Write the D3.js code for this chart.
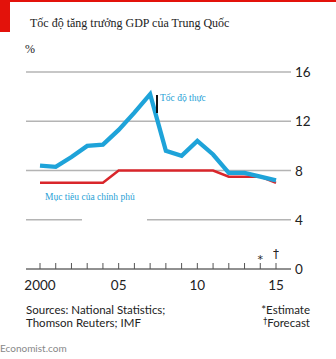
<!DOCTYPE html>
<html>
<head>
<meta charset="utf-8">
<script src="https://cdn.jsdelivr.net/npm/d3@7"></script>
<style>
  body { margin: 0; background: #fff; }
  svg { display: block; }
  .sym { opacity: 0.99; }
</style>
</head>
<body>
<div id="chart"></div>
<script>
var years = [2000, 2001, 2002, 2003, 2004, 2005, 2006, 2007, 2008, 2009, 2010, 2011, 2012, 2013, 2014, 2015];
var actual = [8.4, 8.3, 9.1, 10.0, 10.1, 11.3, 12.7, 14.2, 9.6, 9.2, 10.4, 9.3, 7.8, 7.8, 7.5, 7.2];
var target = [7.0, 7.0, 7.0, 7.0, 7.0, 8.0, 8.0, 8.0, 8.0, 8.0, 8.0, 8.0, 7.5, 7.5, 7.5, 7.0];
var yTicks = [0, 4, 8, 12, 16];
var xLabels = [{year: 2000, text: '2000'}, {year: 2005, text: '05'}, {year: 2010, text: '10'}, {year: 2015, text: '15'}];

var width = 336, height = 359;
var left = 26, right = 291;

var svg = d3.select('#chart').append('svg')
  .attr('width', width)
  .attr('height', height);

var x = d3.scaleLinear().domain([2000, 2015]).range([40, 276]);
var y = d3.scaleLinear().domain([0, 16]).range([269, 72]);

// economist red bits
svg.append('rect').attr('x', 0).attr('y', 0).attr('width', width).attr('height', 2).attr('fill', '#e3120b');
svg.append('rect').attr('x', 0).attr('y', 0).attr('width', 10).attr('height', 32).attr('fill', '#e3120b');

svg.append('text')
  .attr('x', 30).attr('y', 27)
  .attr('font-family', 'Liberation Serif, serif')
  .attr('font-size', 12)
  .attr('fill', '#222')
  .text('Tốc độ tăng trưởng GDP của Trung Quốc');

svg.append('text')
  .attr('x', 25).attr('y', 53)
  .attr('font-family', 'Liberation Serif, serif')
  .attr('font-size', 12)
  .attr('fill', '#222')
  .text('%');

// gridlines
svg.selectAll('.grid')
  .data(yTicks.filter(function(d) { return d > 0; }))
  .enter().append('line')
  .attr('x1', left).attr('x2', right)
  .attr('y1', function(d) { return y(d); })
  .attr('y2', function(d) { return y(d); })
  .attr('stroke', '#b4b4b4')
  .attr('stroke-width', 1.3);

svg.selectAll('.ylab')
  .data(yTicks)
  .enter().append('text')
  .attr('x', 295)
  .attr('y', function(d) { return y(d) + 5; })
  .attr('font-family', 'Lato, sans-serif')
  .attr('font-size', 13.5)
  .attr('fill', '#222')
  .text(function(d) { return d; });

// x axis
svg.append('line')
  .attr('x1', left).attr('x2', right)
  .attr('y1', y(0)).attr('y2', y(0))
  .attr('stroke', '#222').attr('stroke-width', 1);

svg.selectAll('.tick')
  .data(years)
  .enter().append('line')
  .attr('x1', function(d) { return x(d); })
  .attr('x2', function(d) { return x(d); })
  .attr('y1', y(0)).attr('y2', y(0) - 6)
  .attr('stroke', '#555').attr('stroke-width', 1);

svg.selectAll('.xlab')
  .data(xLabels)
  .enter().append('text')
  .attr('x', function(d) { return x(d.year); })
  .attr('y', 290)
  .attr('text-anchor', 'middle')
  .attr('font-family', 'Lato, sans-serif')
  .attr('font-size', 13.5)
  .attr('fill', '#222')
  .text(function(d) { return d.text; });

svg.append('text')
  .attr('class', 'sym')
  .attr('x', x(2014)).attr('y', 263)
  .attr('text-anchor', 'middle')
  .attr('font-family', 'DejaVu Sans, sans-serif')
  .attr('font-size', 11).attr('fill', '#222')
  .text('*');
svg.append('text')
  .attr('class', 'sym')
  .attr('x', x(2015)).attr('y', 258)
  .attr('text-anchor', 'middle')
  .attr('font-family', 'DejaVu Sans, sans-serif')
  .attr('font-size', 12).attr('fill', '#222')
  .text('\u2020');

// lines
var line = d3.line()
  .x(function(d, i) { return x(years[i]); })
  .y(function(d) { return y(d); });

svg.append('path')
  .datum(target)
  .attr('d', line)
  .attr('fill', 'none')
  .attr('stroke', '#d9262b')
  .attr('stroke-width', 2.5);

svg.append('path')
  .datum(actual)
  .attr('d', line)
  .attr('fill', 'none')
  .attr('stroke', '#1ea3d9')
  .attr('stroke-width', 4.3)
  .attr('stroke-linejoin', 'miter');

// line labels
svg.append('line')
  .attr('x1', 157).attr('x2', 157)
  .attr('y1', 95).attr('y2', 113)
  .attr('stroke', '#111').attr('stroke-width', 2);

svg.append('text')
  .attr('x', 160).attr('y', 101)
  .attr('font-family', 'Liberation Serif, serif')
  .attr('font-size', 9.5)
  .attr('fill', '#1f9fd6')
  .text('Tốc độ thực');

svg.append('text')
  .attr('x', 45).attr('y', 200)
  .attr('font-family', 'Liberation Serif, serif')
  .attr('font-size', 9.5)
  .attr('fill', '#1f9fd6')
  .text('Mục tiêu của chính phủ');

// white patch over 4 gridline
svg.append('rect')
  .attr('x', 82).attr('y', y(4) - 3)
  .attr('width', 65).attr('height', 6)
  .attr('fill', '#fff');

// footer
var foot = svg.append('g')
  .attr('font-family', 'Lato, sans-serif')
  .attr('font-size', 11.5)
  .attr('fill', '#222');
foot.append('text').attr('x', 26).attr('y', 314).text('Sources: National Statistics;');
foot.append('text').attr('x', 26).attr('y', 327).text('Thomson Reuters; IMF');
foot.append('text').attr('x', 310).attr('y', 314).attr('text-anchor', 'end').text('*Estimate');
var fc = foot.append('text').attr('class', 'sym').attr('x', 310).attr('y', 327).attr('text-anchor', 'end');
fc.append('tspan').attr('font-family', 'DejaVu Sans, sans-serif').attr('font-size', 8).attr('dy', -3).text('\u2020');
fc.append('tspan').attr('dy', 3).text('Forecast');

svg.append('text')
  .attr('x', 0).attr('y', 352)
  .attr('font-family', 'Lato, sans-serif')
  .attr('font-size', 10)
  .attr('fill', '#888')
  .text('Economist.com');
</script>
</body>
</html>
